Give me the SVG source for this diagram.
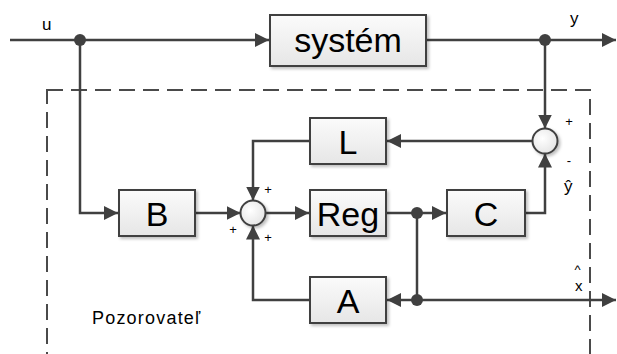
<svg xmlns="http://www.w3.org/2000/svg" width="617" height="354" viewBox="0 0 617 354">
  <style>
    .wire { fill: none; stroke: #404040; stroke-width: 2.5; }
    .arr { marker-end: url(#head); }
    .blk { fill: url(#boxFill); stroke: #404040; stroke-width: 2; filter: url(#shade); }
    .sum { fill: url(#sumFill); stroke: #404040; stroke-width: 2; filter: url(#shade); }
    .dot { fill: #404040; }
    .big { font-family: "Liberation Sans", Arial, sans-serif; font-size: 34px; fill: #000; text-anchor: middle; }
    .lbl { font-family: "Liberation Sans", Arial, sans-serif; font-size: 17px; fill: #000; }
    .sgn { font-family: "Liberation Sans", Arial, sans-serif; font-size: 13px; fill: #000; text-anchor: middle; }
    .frame { fill: none; stroke: #4a4a4a; stroke-width: 2; stroke-dasharray: 16 8; }
  </style>
  <defs>
    <linearGradient id="boxFill" x1="0" y1="0" x2="0" y2="1">
      <stop offset="0" stop-color="#fbfbfb"/>
      <stop offset="1" stop-color="#e6e6e6"/>
    </linearGradient>
    <radialGradient id="sumFill" cx="0.4" cy="0.4" r="0.7">
      <stop offset="0" stop-color="#ffffff"/>
      <stop offset="1" stop-color="#e2e2e2"/>
    </radialGradient>
    <filter id="shade" x="-20%" y="-20%" width="140%" height="140%">
      <feDropShadow dx="2" dy="2" stdDeviation="1.5" flood-color="#000" flood-opacity="0.25"/>
    </filter>
    <marker id="head" markerUnits="userSpaceOnUse" markerWidth="15" markerHeight="14" refX="14" refY="7" orient="auto">
      <path d="M0,0 L14,7 L0,14 z" fill="#404040"/>
    </marker>
  </defs>

  <!-- observer boundary -->
  <rect class="frame" x="47" y="90" width="543" height="280"/>

  <!-- connectors -->
  <g id="connectors">
    <path class="wire arr" d="M10,40 H269"/>
    <path class="wire arr" d="M426,40 H616"/>
    <path class="wire arr" d="M80,40 V213 H118"/>
    <path class="wire arr" d="M545,40 V128.5"/>
    <path class="wire arr" d="M532.5,141 H387"/>
    <path class="wire arr" d="M310,141 H253 V200.5"/>
    <path class="wire arr" d="M195,213 H240.5"/>
    <path class="wire arr" d="M265.5,213 H309"/>
    <path class="wire arr" d="M386,213 H446"/>
    <path class="wire arr" d="M525,213 H545 V153.5"/>
    <path class="wire" d="M417,213 V300"/>
    <path class="wire arr" d="M417,300 H387"/>
    <path class="wire arr" d="M417,300 H616"/>
    <path class="wire arr" d="M310,300 H253 V225.5"/>
    <circle class="dot" cx="80" cy="40" r="6"/>
    <circle class="dot" cx="545" cy="40" r="6"/>
    <circle class="dot" cx="417" cy="213" r="6"/>
    <circle class="dot" cx="417" cy="300" r="6"/>
  </g>

  <!-- plant -->
  <g id="system">
    <rect class="blk" x="270" y="15" width="156" height="51"/>
    <text class="big" x="348" y="52">systém</text>
  </g>

  <g id="B">
    <rect class="blk" x="119" y="190" width="76" height="46"/>
    <text class="big" x="157" y="226">B</text>
  </g>

  <g id="L">
    <rect class="blk" x="310" y="118" width="76" height="46"/>
    <text class="big" x="348" y="154">L</text>
  </g>

  <g id="Reg">
    <rect class="blk" x="310" y="190" width="76" height="46"/>
    <text class="big" x="348" y="226">Reg</text>
  </g>

  <g id="C">
    <rect class="blk" x="447" y="190" width="78" height="46"/>
    <text class="big" x="486" y="226">C</text>
  </g>

  <g id="A">
    <rect class="blk" x="310" y="277" width="76" height="46"/>
    <text class="big" x="348" y="313">A</text>
  </g>

  <!-- summing junctions -->
  <g id="sum-left">
    <circle class="sum" cx="253" cy="213" r="12.5"/>
    <text class="sgn" x="268" y="194">+</text>
    <text class="sgn" x="233" y="234">+</text>
    <text class="sgn" x="268" y="242">+</text>
  </g>

  <g id="sum-right">
    <circle class="sum" cx="545" cy="141" r="12.5"/>
    <text class="sgn" x="569" y="126">+</text>
    <text class="sgn" x="569" y="165">-</text>
  </g>

  <!-- signal labels -->
  <text class="lbl" x="42" y="30">u</text>
  <text class="lbl" x="570" y="24">y</text>
  <text class="lbl" x="564" y="192">ŷ</text>
  <text class="lbl" x="574.5" y="274" style="font-size:13px">^</text>
  <text class="lbl" x="575" y="291" style="font-size:15px">x</text>
  <text class="lbl" x="92" y="324" style="font-size:18px;letter-spacing:1.2px">Pozorovateľ</text>
</svg>
